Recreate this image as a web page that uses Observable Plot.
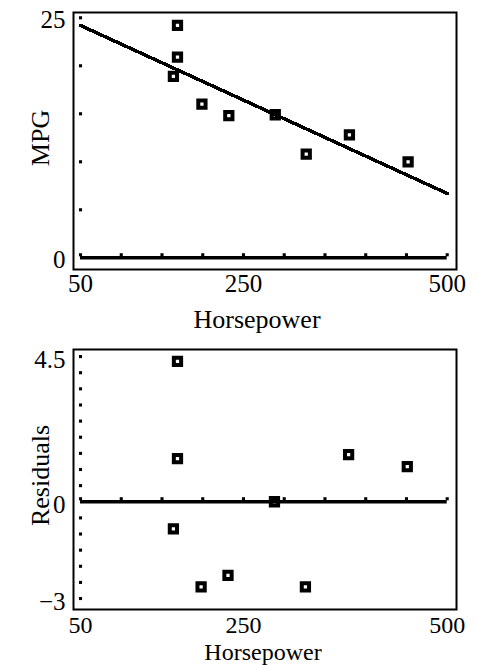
<!DOCTYPE html>
<html>
<head>
<meta charset="utf-8">
<script src="https://cdn.jsdelivr.net/npm/d3@7"></script>
<script src="https://cdn.jsdelivr.net/npm/@observablehq/plot@0.6"></script>
<style>
  html, body { margin: 0; padding: 0; background: #fff; }
  #chart svg { display: block; }
</style>
</head>
<body>
<div id="chart"></div>
<script>
// ---- data ----
const horsepower = [169, 169, 164, 199, 232, 289, 327, 380, 452];
const mpg        = [24.2, 20.9, 18.9, 16.0, 14.8, 14.9, 10.8, 12.8, 10.0];
const residHp    = [169, 169, 164, 198, 231, 288, 326, 379, 451];
const residuals  = [4.35, 1.34, -0.84, -2.64, -2.28, 0.0, -2.64, 1.46, 1.09];
const fitHp      = [50, 500];
const fitMpg     = [24.2, 6.7];
const xTickMarks = [50, 100, 150, 200, 250, 300, 350, 400, 450, 500];
const xTickLabels = [50, 250, 500];
const mpgTickMarks = [5, 10, 15, 20, 25];
const mpgTickLabels = [0, 25];
const residTickMarks = [-3, -2.5, -2, -1.5, -1, -0.5, 0.5, 1, 1.5, 2, 2.5, 3, 3.5, 4, 4.5];
const residTickLabels = [-3, 0, 4.5];

const topPts = horsepower.map((h, i) => ({hp: h, mpg: mpg[i]}));
const resPts = residHp.map((h, i) => ({hp: h, r: residuals[i]}));
const fitPts = fitHp.map((h, i) => ({hp: h, mpg: fitMpg[i]}));

const font = "'Liberation Serif', 'Times New Roman', serif";
const fmt = d => d < 0 ? "\u2212" + Math.abs(d) : String(d);
const markerOpts = {symbol: "square", r: 4.1, stroke: "black", strokeWidth: 4, fill: "white"};
const smallSq = {symbol: "square", r: 1.75, fill: "black", stroke: "none"};

const mpgPlot = Plot.plot({
  width: 477, height: 340,
  marginTop: 12, marginBottom: 71, marginLeft: 73, marginRight: 21,
  x: {domain: [41.4, 511.4]},
  y: {domain: [-1.22, 25.55]},
  style: {fontFamily: font, fontSize: "25px", color: "black", background: "white", overflow: "visible"},
  marks: [
    Plot.frame({stroke: "black", strokeWidth: 2}),
    Plot.axisX(xTickLabels, {tickSize: 0, tickPadding: 5, fontSize: 25, label: null, tickFormat: fmt}),
    Plot.axisY(mpgTickLabels, {tickSize: 0, tickPadding: 8, fontSize: 25, label: null, tickFormat: fmt, dy: 2}),
    Plot.dot(mpgTickMarks, {x: () => 50, y: d => d, ...smallSq}),
    Plot.dot(topPts, {x: "hp", y: "mpg", ...markerOpts}),
    Plot.line(fitPts, {x: "hp", y: "mpg", stroke: "black", strokeWidth: 3.5, shapeRendering: "crispEdges"}),
    Plot.ruleY([0], {x1: 50, x2: 500, stroke: "black", strokeWidth: 3.5}),
    Plot.dot(xTickMarks, {x: d => d, y: () => 0, dy: -3, ...smallSq}),
    Plot.text(["MPG"], {text: d => d, frameAnchor: "left", textAnchor: "middle", lineAnchor: "middle", dx: -33, dy: -3, rotate: -90, fontSize: 26}),
    Plot.text(["Horsepower"], {text: d => d, frameAnchor: "bottom", textAnchor: "middle", lineAnchor: "bottom", dy: 58, dx: -8, fontSize: 26})
  ]
});

const residPlot = Plot.plot({
  width: 477, height: 325,
  marginTop: 9, marginBottom: 56, marginLeft: 73, marginRight: 21,
  x: {domain: [41.4, 511.4]},
  y: {domain: [-3.34, 4.72]},
  style: {fontFamily: font, fontSize: "25px", color: "black", background: "white", overflow: "visible"},
  marks: [
    Plot.frame({stroke: "black", strokeWidth: 2}),
    Plot.axisX(xTickLabels, {tickSize: 0, tickPadding: 6, fontSize: 24, label: null, tickFormat: fmt}),
    Plot.axisY(residTickLabels, {tickSize: 0, tickPadding: 8, fontSize: 25, label: null, tickFormat: fmt, dy: 3}),
    Plot.dot(residTickMarks, {x: () => 50, y: d => d, ...smallSq}),
    Plot.dot(resPts, {x: "hp", y: "r", ...markerOpts}),
    Plot.ruleY([0], {x1: 50, x2: 500, stroke: "black", strokeWidth: 3.5}),
    Plot.dot(xTickMarks, {x: d => d, y: () => 0, dy: -3, ...smallSq}),
    Plot.text(["Residuals"], {text: d => d, frameAnchor: "left", textAnchor: "middle", lineAnchor: "middle", dx: -33, dy: -4, rotate: -90, fontSize: 26}),
    Plot.text(["Horsepower"], {text: d => d, frameAnchor: "bottom", textAnchor: "middle", lineAnchor: "bottom", dy: 50, dx: -2, fontSize: 24})
  ]
});

const root = document.getElementById("chart");
root.appendChild(mpgPlot);
root.appendChild(residPlot);
</script>
</body>
</html>
